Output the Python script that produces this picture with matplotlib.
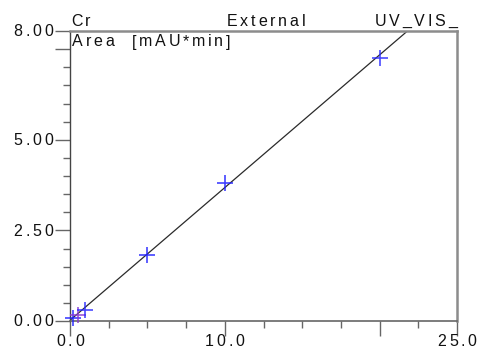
import matplotlib
matplotlib.use('Agg')
from matplotlib import pyplot as plt
from matplotlib.font_manager import FontProperties, findfont, get_font
from matplotlib.transforms import ScaledTranslation

# calibration points (amount vs. peak area)
conc = [0.2, 0.5, 1.0, 5.0, 10.0, 20.0]
area = [0.08, 0.17, 0.31, 1.82, 3.81, 7.26]
point_colors = ['#2020ff', '#8a3ad0', '#2a2aff', '#2020ff', '#2020ff', '#2a2aff']

# fitted calibration line, end points
line_x = [0.0, 21.8]
line_y = [0.02, 8.0]

x_major = [0, 10, 20, 25]
x_labels = ['0.0', '10.0', '', '25.0']
x_minor = [2.5, 5, 7.5, 12.5, 15, 17.5, 22.5]
y_major = [0, 2.5, 5, 7.5, 8]
y_labels = ['0.00', '2.50', '5.00', '', '8.00']
y_minor = [0.5, 1, 1.5, 2, 3, 3.5, 4, 4.5, 5.5, 6, 6.5, 7]

title_left = 'Cr'
title_mid = 'External'
title_right = 'UV_VIS_'
y_title = 'Area  [mAU*min]'

DPI = 100
FS = 11.5
GAP = 2.8  # extra letter spacing in pixels
FAMILY = 'Liberation Sans'
TXT = '#111111'

fig = plt.figure(figsize=(4.81, 3.48), dpi=DPI)
ax = fig.add_axes([70 / 481, 27 / 348, 387 / 481, 290 / 348])

font = get_font(findfont(FontProperties(family=FAMILY)))
font.set_size(FS, DPI)


def advance(ch):
    g = font.load_char(ord(ch))
    return g.linearHoriAdvance / 65536.0


def spaced(x, y, s, transform, ha='left', dx=0.0, dy=0.0):
    # draw s one letter at a time, with the wide spacing of the original
    widths = [advance(c) for c in s]
    total = sum(widths) + GAP * (len(s) - 1)
    off = {'left': 0.0, 'center': -total / 2, 'right': -total}[ha] + dx
    for c, w in zip(s, widths):
        if c != ' ':
            tr = transform + ScaledTranslation(off / DPI, dy / DPI, fig.dpi_scale_trans)
            fig.text(x, y, c, transform=tr, ha='left', va='baseline',
                     fontsize=FS, family=FAMILY, color=TXT, clip_on=False)
        off += w + GAP


ax.plot(line_x, line_y, color='#2a2a2a', lw=0.9)
for xv, yv, c in zip(conc, area, point_colors):
    ax.plot(xv, yv, marker='+', ms=11, mew=1.2, color=c, alpha=0.85,
            linestyle='none', clip_on=False, zorder=3)

ax.set_xlim(0, 25)
ax.set_ylim(0, 8)

ax.set_xticks(x_major)
ax.set_xticks(x_minor, minor=True)
ax.set_yticks(y_major)
ax.set_yticks(y_minor, minor=True)
ax.set_xticklabels([])
ax.set_yticklabels([])
ax.tick_params(which='major', length=11, width=1.0, color='#666666')
ax.tick_params(which='minor', length=5, width=1.0, color='#666666')

ax.spines['left'].set_color('#444444')
ax.spines['bottom'].set_color('#666666')
ax.spines['top'].set_color('#8c8c8c')
ax.spines['right'].set_color('#8c8c8c')
ax.spines['left'].set_linewidth(1.0)
ax.spines['bottom'].set_linewidth(1.2)
ax.spines['top'].set_linewidth(1.8)
ax.spines['right'].set_linewidth(1.8)

# tick labels
for v, lab in zip(x_major, x_labels):
    if lab:
        spaced(v, 0, lab, ax.get_xaxis_transform(), ha='center', dy=-25)
for v, lab in zip(y_major, y_labels):
    if lab:
        spaced(0, v, lab, ax.get_yaxis_transform(), ha='right', dx=-17, dy=-5.5)

# header texts
spaced(0, 1, title_left, ax.transAxes, ha='left', dx=1, dy=5)
spaced(0.506, 1, title_mid, ax.transAxes, ha='center', dy=5)
spaced(1, 1, title_right, ax.transAxes, ha='right', dy=5)
spaced(0, 1, y_title, ax.transAxes, ha='left', dx=2, dy=-15.5)

fig.savefig('out.png', dpi=DPI)
